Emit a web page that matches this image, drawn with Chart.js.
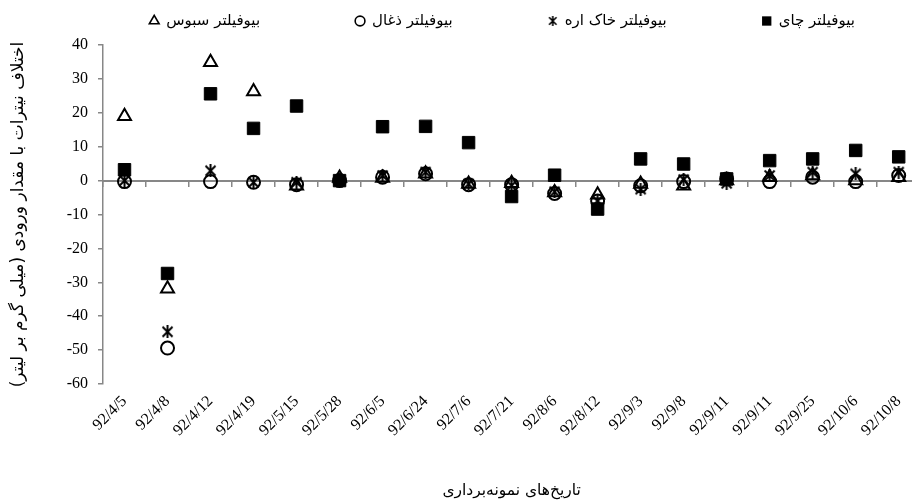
<!DOCTYPE html>
<html>
<head>
<meta charset="utf-8">
<script src="https://cdn.jsdelivr.net/npm/chart.js"></script>
<style>
  html, body { margin: 0; padding: 0; overflow: hidden; background: #fff; }
  #wrap { width: 930px; height: 502px; }
</style>
</head>
<body>
<div id="wrap"><canvas id="chart" width="930" height="502"></canvas></div>
<script>
// sampling dates (x categories)
const dates = ['92/4/5', '92/4/8', '92/4/12', '92/4/19', '92/5/15', '92/5/28', '92/6/5', '92/6/24', '92/7/6',
    '92/7/21', '92/8/6', '92/8/12', '92/9/3', '92/9/8', '92/9/11', '92/9/11', '92/9/25', '92/10/6', '92/10/8'];

// nitrate difference, mg/L
const teaValues = [3.2, -27.4, 25.6, 15.4, 22.0, 0.0, 15.9, 16.0, 11.2, -4.7, 1.6, -8.4, 6.4, 4.9, 0.5, 5.9, 6.4, 8.9, 7.0];
const sawdustValues = [0.0, -44.6, 2.9, -0.5, -0.5, 0.0, 1.5, 2.5, -1.0, -1.5, -3.3, -6.0, -2.5, 0.3, -0.8, 1.5, 2.5, 2.0, 2.5];
const charcoalValues = [-0.3, -49.4, -0.3, -0.5, -1.2, 0.0, 1.0, 2.0, -1.2, -1.2, -3.8, -6.0, -1.5, -0.3, 0.5, -0.3, 1.0, -0.3, 1.5];
const branValues = [19.0, -31.9, 34.9, 26.3, -1.5, 0.8, 0.8, 2.0, -1.0, -0.8, -3.5, -4.2, -1.0, -1.5, 0.0, 1.0, 1.5, 0.0, 1.0];

const seriesNames = ['بیوفیلتر چای', 'بیوفیلتر خاک اره', 'بیوفیلتر ذغال', 'بیوفیلتر سبوس'];
const yTitle = 'اختلاف نیترات با مقدار ورودی (میلی گرم بر لیتر)\u200F';
const xTitle = 'تاریخ‌های نمونه‌برداری';

const axisGray = '#878787';
const arabicFont = '"DejaVu Sans", sans-serif';
const numberFont = '"Liberation Serif", "Times New Roman", serif';

// Excel-like star marker: an X with a vertical bar
function makeStar(size, lw) {
    const c = document.createElement('canvas');
    c.width = size;
    c.height = size;
    const g = c.getContext('2d');
    const m = lw / 2 + 0.5;
    g.strokeStyle = '#000';
    g.lineWidth = lw;
    g.beginPath();
    g.moveTo(m, m); g.lineTo(size - m, size - m);
    g.moveTo(size - m, m); g.lineTo(m, size - m);
    g.moveTo(size / 2, 0); g.lineTo(size / 2, size);
    g.stroke();
    return c;
}
const starMarker = makeStar(13, 2);
const starLegend = makeStar(10, 1.6);

function series(label, data, style, radius, filled, order, legendStyle) {
    return {
        label: label,
        data: data,
        showLine: false,
        order: order,
        pointStyle: style,
        pointRadius: radius,
        pointHoverRadius: radius,
        pointBorderWidth: filled ? 1 : 2,
        pointBorderColor: '#000',
        pointBackgroundColor: filled ? '#000' : 'rgba(0,0,0,0)',
        borderColor: '#000',
        backgroundColor: filled ? '#000' : 'rgba(0,0,0,0)',
        legendStyle: legendStyle || style
    };
}

// Legend row drawn in the top margin, items right-to-left
const legendRow = {
    id: 'legendRow',
    afterDraw(chart) {
        const ctx = chart.ctx;
        const area = chart.chartArea;
        const items = chart.data.datasets.slice().reverse();
        ctx.save();
        ctx.font = '15px ' + arabicFont;
        const widths = items.map(d => 20 + ctx.measureText(d.label).width);
        const gap = 92;
        const total = widths.reduce((a, b) => a + b, 0) + gap * (items.length - 1);
        let x = (area.left + area.right) / 2 - total / 2 - 8;
        const y = 21;
        items.forEach((d, i) => {
            ctx.fillStyle = d.backgroundColor;
            ctx.strokeStyle = '#000';
            ctx.lineWidth = 1.6;
            Chart.helpers.drawPoint(ctx, {
                pointStyle: d.legendStyle,
                radius: d.pointRadius * 0.75,
                borderWidth: d.backgroundColor === '#000' ? 0 : 1.6,
                rotation: 0
            }, x + 5, y);
            ctx.fillStyle = '#000';
            ctx.textAlign = 'left';
            ctx.textBaseline = 'middle';
            ctx.fillText(d.label, x + 17, y);
            x += widths[i] + gap;
        });
        ctx.restore();
    }
};

new Chart(document.getElementById('chart'), {
    type: 'line',
    data: {
        labels: dates,
        datasets: [
            series(seriesNames[0], teaValues, 'rect', 8.8, true, 4),
            series(seriesNames[1], sawdustValues, starMarker, 6.5, false, 1, starLegend),
            series(seriesNames[2], charcoalValues, 'circle', 6.5, false, 2),
            series(seriesNames[3], branValues, 'triangle', 7.5, false, 3)
        ]
    },
    options: {
        responsive: false,
        animation: false,
        layout: { padding: { top: 45, left: 0, right: 0, bottom: 0 } },
        plugins: {
            legend: { display: false },
            tooltip: { enabled: false }
        },
        scales: {
            x: {
                type: 'category',
                position: 'bottom',
                offset: true,
                grid: { display: false, drawTicks: false },
                border: { display: false },
                ticks: {
                    autoSkip: false,
                    minRotation: 45,
                    maxRotation: 45,
                    padding: 8,
                    color: '#000',
                    font: { family: numberFont, size: 16 }
                },
                title: {
                    display: true,
                    text: xTitle,
                    color: '#000',
                    font: { family: arabicFont, size: 15.5 },
                    padding: { top: 0, bottom: 2 }
                },
                afterFit(scale) { scale.height = 118; }
            },
            x0: {
                type: 'category',
                labels: dates,
                offset: true,
                position: { y: 0 },
                grid: { drawOnChartArea: false, drawTicks: true, tickLength: 5, offset: true, color: axisGray, lineWidth: 1.5 },
                border: { color: axisGray, width: 2 },
                ticks: { display: false }
            },
            y: {
                min: -60,
                max: 40,
                ticks: {
                    stepSize: 10,
                    padding: 10,
                    color: '#000',
                    font: { family: numberFont, size: 16 }
                },
                grid: { drawOnChartArea: false, drawTicks: true, tickLength: 5, color: axisGray, lineWidth: 1.5 },
                border: { color: axisGray, width: 1.5 },
                title: {
                    display: true,
                    text: yTitle,
                    color: '#000',
                    font: { family: arabicFont, size: 17 },
                    padding: { top: 8, bottom: 0 }
                },
                afterFit(scale) { scale.width = 103; }
            }
        }
    },
    plugins: [legendRow]
});
</script>
</body>
</html>
